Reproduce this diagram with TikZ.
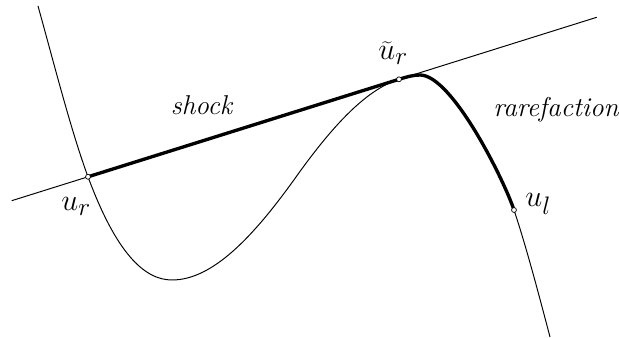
\documentclass[tikz,border=0pt]{standalone}
\tikzset{
  punkt/.style={circle, draw, fill=white, inner sep=0pt, minimum size=2.8pt, line width=0.4pt},
  duenn/.style={line width=0.55pt},
  dick/.style={line width=1.9pt},
  beschr/.style={font=\fontsize{15.5}{18}\selectfont\itshape, inner sep=0pt},
  zustand/.style={font=\fontsize{19}{22}\selectfont, inner sep=0pt},
}

\begin{document}
\begin{tikzpicture}[x=0.02cm, y=0.02cm]
    \useasboundingbox (0,0) rectangle (619,338);

        % Stuetzpunkte der Kurve
        \coordinate (A) at (38,332);
        \coordinate (B) at (88,161.2);
        \coordinate (C) at (172,58);
        \coordinate (D) at (296,161);
        \coordinate (E) at (399,258.7);
        \coordinate (F) at (420,263);
        \coordinate (G) at (514,128);
        \coordinate (H) at (550,1);

        % Endpunkte der Geraden
        \coordinate (L1) at (11.7,137.3);
        \coordinate (L2) at (596.7,320.7);

        % Kurve zeichnen
        \draw[duenn] (A) .. controls (54.67,272) and (71.33,206.2) .. (B)
            .. controls (116,85.6) and (144,58) .. (C)
            .. controls (213.33,58) and (254.67,103.1) .. (D)
            .. controls (330.33,209.1) and (364.67,247.9) .. (E)
            .. controls (406,260.9) and (413,263) .. (F)
            .. controls (452,263) and (504,158) .. (G)
            .. controls (526,92) and (538,46.6) .. (H);

        % Gerade zeichnen
        \draw[duenn] (L1) -- (L2);

        % Stoss und Verduennung (dick)
        \draw[dick] (B) -- (E);
        \draw[dick] (E) .. controls (406,260.9) and (413,263) .. (F)
            .. controls (452,263) and (504,158) .. (G);

        % Zustaende markieren
        \foreach \p in {B,E,G}
        \node[punkt] (p\p) at (\p) {};

        % Beschriftungen
        \node[beschr, anchor=base] (stoss) at (201.5,223) {shock};
        \node[beschr, anchor=base] (verd) at (556,221) {rarefaction};
        \node[zustand, anchor=base west] (ur) at (61,127) {$u_r$};
        \node[zustand, anchor=base west] (urt) at (378,278) {$\widetilde{u}_r$};
        \node[zustand, anchor=base west] (ul) at (525,131) {$u_l$};

    \end{tikzpicture}
\end{document}
